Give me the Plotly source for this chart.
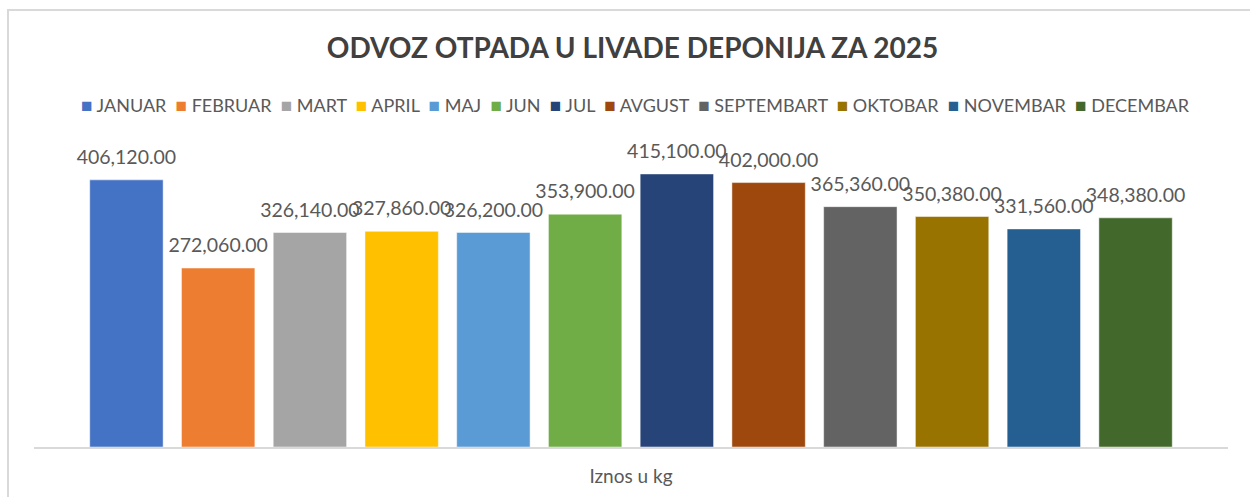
import plotly.graph_objects as go

category = ["Iznos u kg"]
months = ["JANUAR", "FEBRUAR", "MART", "APRIL", "MAJ", "JUN", "JUL",
          "AVGUST", "SEPTEMBART", "OKTOBAR", "NOVEMBAR", "DECEMBAR"]
values = [406120, 272060, 326140, 327860, 326200, 353900, 415100,
          402000, 365360, 350380, 331560, 348380]
colors = ["#4472C4", "#ED7D31", "#A5A5A5", "#FFC000", "#5B9BD5", "#70AD47",
          "#264478", "#9E480E", "#636363", "#997300", "#255E91", "#43682B"]
title_text = "ODVOZ OTPADA U LIVADE DEPONIJA ZA 2025"

FONT = "Lato"
TXT = "#595959"
GAP = 0.078

fig = go.Figure()
for name, val, col in zip(months, values, colors):
    fig.add_trace(go.Bar(
        name=name, x=category, y=[val],
        marker=dict(color=col, line=dict(color="rgba(255,255,255,0.6)", width=0.8)),
        showlegend=False, hoverinfo="skip",
    ))
# data labels: grouped text points sitting on top of each bar
for name, val in zip(months, values):
    fig.add_trace(go.Scatter(
        name=name, x=category, y=[val], mode="markers+text",
        marker=dict(size=16, opacity=0),
        text=[f"{val:,.2f}"], textposition="top center",
        textfont=dict(family=FONT, size=19.5, color=TXT),
        cliponaxis=False, showlegend=False, hoverinfo="skip",
    ))

# legend drawn as a single text line built from the series names/colours
sep = "\u00a0\u00a0"
parts = [f'<span style="color:{c};font-size:19px">\u25A0</span>\u00a0{m}'
         for m, c in zip(months, colors)]
legend_text = sep.join(parts)

fig.update_layout(
    width=1250, height=497,
    margin=dict(l=34, r=22, t=151, b=50),
    paper_bgcolor="white", plot_bgcolor="white",
    barmode="group", bargap=GAP, bargroupgap=0.2,
    scattermode="group", scattergap=GAP,
    title=dict(text=f"<b>{title_text}</b>", x=0.506, xanchor="center",
               y=1 - 48 / 497, yanchor="middle",
               font=dict(family=FONT, size=28, color="#404040")),
    xaxis=dict(showline=True, linecolor="#d9d9d9", linewidth=1.5,
               ticks="", showgrid=False, ticklabelstandoff=11, automargin=False,
               tickfont=dict(family=FONT, size=19, color=TXT)),
    yaxis=dict(range=[0, 450000], visible=False, showgrid=False, automargin=False),
    annotations=[dict(text=legend_text, xref="paper", yref="paper",
                      x=(635 - 34) / 1194, y=(447 - 104) / 296,
                      xanchor="center", yanchor="middle", showarrow=False,
                      font=dict(family=FONT, size=18, color=TXT))],
    shapes=[dict(type="rect", xref="paper", yref="paper",
                 x0=(8 - 34) / 1194, x1=1.2, y0=-0.5, y1=(447 - 10) / 296,
                 line=dict(color="#d9d9d9", width=2), layer="below")],
)

fig.write_html("out.html", config={"displayModeBar": False},
               post_script="document.body.style.margin='0';"
                           "document.body.style.overflow='hidden';")
